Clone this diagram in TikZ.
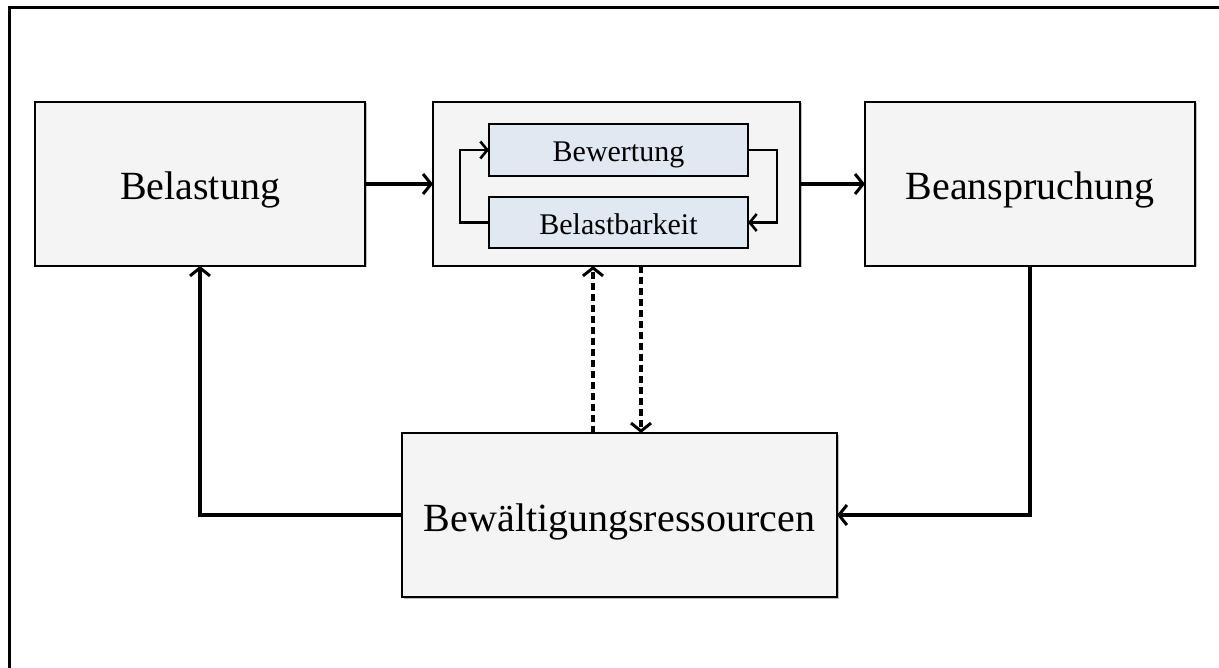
\documentclass[tikz,border=0pt]{standalone}
\usepackage{fontspec}
\setmainfont{Liberation Serif}
\usetikzlibrary{arrows.meta,shadows}
\definecolor{boxgray}{HTML}{F4F4F4}
\definecolor{boxblue}{HTML}{E0E8F1}
\begin{document}
\begin{tikzpicture}[x=1pt,y=-1pt,
  outerbox/.style={draw, line width=2.6pt, fill=boxgray, inner sep=0pt, outer sep=0pt,
    font=\fontsize{40}{44}\selectfont, text height=32pt, text depth=0pt,
    drop shadow={shadow xshift=1.5pt, shadow yshift=-1.5pt, opacity=0.25, fill=black}},
  innerbox/.style={draw, line width=2.4pt, fill=boxblue, inner sep=0pt, outer sep=0pt,
    font=\fontsize{30}{33}\selectfont, text height=24pt, text depth=0pt,
    drop shadow={shadow xshift=1pt, shadow yshift=-1pt, opacity=0.25, fill=black}},
  barb/.tip={Straight Barb[length=8pt,width=20pt,line width=3pt]},
  smallbarb/.tip={Straight Barb[length=7pt,width=17pt,line width=2.6pt]},
  arr/.style={line width=3.4pt, -barb},
  looparr/.style={line width=2.6pt, -smallbarb},
  dasharr/.style={line width=3.2pt, dash pattern=on 7pt off 4pt, -barb}]
  % page and open frame
  \fill[white] (0,0) rectangle (1219,668);
  \useasboundingbox (0,0) rectangle (1219,668);
  \draw[line width=3pt] (9,668) -- (9,8) -- (1219,8);

  % main blocks
  \node[outerbox, minimum width=330pt, minimum height=164pt] (bel) at (200,184) {Belastung};
  \node[outerbox, minimum width=367pt, minimum height=164pt] (mid) at (616.5,184) {};
  \node[outerbox, minimum width=330pt, minimum height=164pt] (bea) at (1030,184) {Beanspruchung};
  \node[outerbox, minimum width=435pt, minimum height=164pt] (res) at (619.5,515) {Bewältigungsressourcen};

  % inner blocks of the middle stage
  \node[innerbox, minimum width=259pt, minimum height=52pt] (bewt) at (618.5,150) {Bewertung};
  \node[innerbox, minimum width=259pt, minimum height=51pt] (bark) at (618.5,222.5) {Belastbarkeit};

  % inner feedback loop
  \draw[looparr] (bark.west) -- ++(-29,0) |- (bewt.west);
  \draw[looparr] (bewt.east) -- ++(29,0) |- (bark.east);

  % forward flow
  \draw[arr] (bel.east) -- (mid.west);
  \draw[arr] (mid.east) -- (bea.west);

  % feedback through the resources
  \draw[arr] (bea.south) |- (res.east);
  \draw[arr] (res.west) -| (bel.south);

  % dashed exchange between resources and appraisal
  \coordinate (up) at ([xshift=-23.5pt]mid.south);
  \coordinate (dn) at ([xshift=24.5pt]mid.south);
  \draw[dasharr] (up |- res.north) -- (up);
  \draw[dasharr] (dn) -- (dn |- res.north);
\end{tikzpicture}
\end{document}
